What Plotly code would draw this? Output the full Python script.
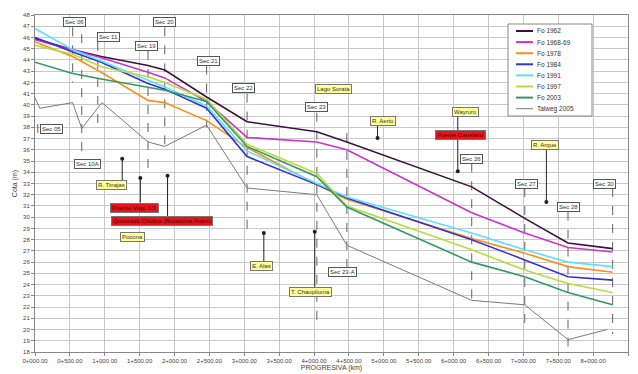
import plotly.graph_objects as go

# ---------------- data ----------------
stations = [0.0, 0.54, 0.95, 1.62, 1.86, 2.46, 3.04, 4.04, 4.47, 6.26, 7.02, 7.64, 8.28]

fo_1962 = [45.9, 44.9, 44.3, 43.5, 43.1, 40.7, 38.5, 37.6, 36.7, 32.7, 29.9, 27.7, 27.2]
fo_1968 = [45.8, 44.9, 44.2, 42.9, 42.4, 40.3, 37.1, 36.7, 36.0, 30.4, 28.6, 27.3, 26.9]
fo_1978 = [45.6, 44.3, 42.9, 40.4, 40.2, 38.6, 36.2, 32.9, 31.6, 28.1, 26.8, 25.6, 25.1]
fo_1984 = [46.0, 44.7, 43.8, 41.9, 41.4, 39.7, 35.4, 32.9, 31.7, 28.0, 26.2, 24.7, 24.4]
fo_1991 = [46.8, 44.9, 43.9, 42.2, 41.6, 39.9, 35.9, 33.0, 31.8, 28.6, 27.1, 26.0, 25.6]
fo_1997 = [45.3, 44.5, 43.4, 42.5, 42.0, 40.5, 36.5, 33.9, 31.0, 27.1, 25.3, 24.1, 23.3]
fo_2003 = [43.8, 42.8, 42.3, 41.6, 41.3, 40.3, 36.3, 33.6, 30.9, 26.0, 24.7, 23.3, 22.2]

talweg_x = [0.0, 0.07, 0.54, 0.67, 0.96, 1.62, 1.86, 2.46, 3.04, 4.04, 4.47, 6.26, 7.02, 7.64, 8.2]
talweg_y = [40.6, 39.7, 40.2, 37.9, 40.2, 36.7, 36.3, 38.2, 32.6, 32.0, 27.5, 22.6, 22.2, 19.1, 20.0]

series_names = ["Fo 1962", "Fo 1968-69", "Fo 1978", "Fo 1984", "Fo 1991", "Fo 1997", "Fo 2003"]
series_vals = [fo_1962, fo_1968, fo_1978, fo_1984, fo_1991, fo_1997, fo_2003]
series_colors = ["#3c1040", "#cc33cc", "#ff8c1a", "#3333cc", "#5ce0ff", "#b8dc3c", "#339966"]
talweg_name = "Talweg 2005"
talweg_color = "#7a7a7a"

x_tickvals = [i * 0.5 for i in range(18)]
x_ticktext = ["0+000.00", "0+500.00", "1+000.00", "1+500.00", "2+000.00", "2+500.00",
              "3+000.00", "3+500.00", "4+000.00", "4+500.00", "5+000.00", "5+500.00",
              "6+000.00", "6+500.00", "7+000.00", "7+500.00", "8+000.00", "8+500.00"]
y_tickvals = list(range(18, 49))

# sections: name, label x, label y, line x, line top, line bottom
sec_names = ["Sec 05", "Sec 06", "Sec 10A", "Sec 11", "Sec 19", "Sec 20", "Sec 21", "Sec 22",
             "Sec 23", "Sec 23-A", "Sec 26", "Sec 27", "Sec 28", "Sec 30"]
sec_lx = [0.24, 0.56, 0.75, 1.05, 1.6, 1.86, 2.49, 2.99, 4.04, 4.41, 6.25, 7.05, 7.64, 8.17]
sec_ly = [37.85, 47.4, 34.7, 46.0, 45.2, 47.4, 43.9, 41.5, 39.8, 25.1, 35.2, 33.0, 30.9, 33.0]
sec_x = [0.04, 0.54, 0.67, 0.9, 1.62, 1.86, 2.46, 3.04, 4.04, 4.47, 6.26, 7.02, 7.64, 8.28]
sec_top = [38.3, 46.9, 46.3, 45.6, 44.8, 46.9, 43.5, 41.0, 39.3, 37.5, 34.8, 32.6, 30.5, 32.6]
sec_bot = [37.4, 42.0, 35.1, 38.0, 34.0, 36.0, 38.0, 28.8, 20.8, 25.5, 22.0, 19.8, 18.0, 19.6]

# place labels
lbl_text = ["R. Tinajas", "Pocona", "Puente Viejo 1/1", "Quebrada Chullpa (Bocatoma Arami)",
            "E. Alas", "Lago Sorata", "R. Aerio", "T. Chaupiloma", "Wayruro",
            "Puente Carretero", "R. Arque"]
lbl_x = [1.09, 1.40, 1.43, 1.82, 3.25, 4.28, 4.99, 3.95, 6.17, 6.10, 7.31]
lbl_y = [32.9, 28.2, 30.85, 29.7, 25.65, 41.4, 38.56, 23.3, 39.4, 37.3, 36.4]
lbl_red = [False, False, True, True, False, False, False, False, False, True, False]

# pointers: x, dot y, end y
ptr_x = [1.25, 1.51, 1.90, 3.28, 4.91, 4.01, 6.06, 7.33]
ptr_dot = [35.2, 33.5, 33.7, 28.6, 37.05, 28.7, 34.1, 31.35]
ptr_end = [33.2, 31.3, 30.1, 26.1, 38.3, 23.8, 39.0, 36.0]

# ---------------- figure ----------------
W, H = 638, 374
ML, MR, MT, MB = 35, 10, 15, 22
PW, PH = W - ML - MR, H - MT - MB


def px_x(p):
    return (p - ML) / PW


def px_y(p):
    return (H - MB - p) / PH


fig = go.Figure()

for i in range(len(sec_names)):
    fig.add_trace(go.Scatter(x=[sec_x[i], sec_x[i]], y=[sec_top[i], sec_bot[i]], mode="lines",
                             line=dict(color="#606060", width=1, dash="dash"),
                             showlegend=False, hoverinfo="skip"))

for i in range(len(ptr_x)):
    fig.add_trace(go.Scatter(x=[ptr_x[i], ptr_x[i]], y=[ptr_dot[i], ptr_end[i]], mode="lines",
                             line=dict(color="#202020", width=1),
                             showlegend=False, hoverinfo="skip"))
fig.add_trace(go.Scatter(x=ptr_x, y=ptr_dot, mode="markers",
                         marker=dict(color="#202020", size=4), showlegend=False, hoverinfo="skip"))

for name, vals, col in zip(series_names, series_vals, series_colors):
    fig.add_trace(go.Scatter(x=stations, y=vals, mode="lines", name=name,
                             line=dict(color=col, width=1.6), showlegend=False))

fig.add_trace(go.Scatter(x=talweg_x, y=talweg_y, mode="lines", name=talweg_name,
                         line=dict(color=talweg_color, width=1), showlegend=False))

annotations = []
for i in range(len(sec_names)):
    annotations.append(dict(x=sec_lx[i], y=sec_ly[i], text=sec_names[i], showarrow=False,
                            font=dict(size=6, color="#333333", family="Liberation Sans"),
                            bgcolor="white", bordercolor="#555555", borderwidth=1, borderpad=1))
for i in range(len(lbl_text)):
    red = lbl_red[i]
    annotations.append(dict(x=lbl_x[i], y=lbl_y[i], text=lbl_text[i], showarrow=False,
                            font=dict(size=6, color="#600000" if red else "#333333",
                                      family="Liberation Sans"),
                            bgcolor="#e8141c" if red else "#ffff99",
                            bordercolor="#777777", borderwidth=1, borderpad=1))

# compact legend box (Excel-like)
shapes = [dict(type="rect", xref="paper", yref="paper",
               x0=px_x(508), x1=px_x(592), y0=px_y(116), y1=px_y(24),
               line=dict(color="#888888", width=1), fillcolor="white", layer="above")]
leg_names = series_names + [talweg_name]
leg_colors = series_colors + [talweg_color]
leg_widths = [2] * len(series_names) + [1]
for i, (n, c, w) in enumerate(zip(leg_names, leg_colors, leg_widths)):
    yy = px_y(31 + 11.1 * i)
    shapes.append(dict(type="line", xref="paper", yref="paper",
                       x0=px_x(516), x1=px_x(533), y0=yy, y1=yy,
                       line=dict(color=c, width=w), layer="above"))
    annotations.append(dict(x=px_x(535), y=yy, xref="paper", yref="paper", text=n,
                            showarrow=False, xanchor="left", yanchor="middle",
                            font=dict(size=6.5, color="#333333", family="Liberation Sans")))

fig.update_layout(
    width=W, height=H,
    margin=dict(l=ML, r=MR, t=MT, b=MB, autoexpand=False),
    paper_bgcolor="white", plot_bgcolor="white",
    font=dict(family="Liberation Sans", size=6, color="#444444"),
    showlegend=False,
    annotations=annotations,
    shapes=shapes,
)
fig.update_xaxes(range=[0, 8.5], tickvals=x_tickvals, ticktext=x_ticktext,
                 showgrid=True, gridcolor="#c8c8c8", gridwidth=1,
                 showline=True, linecolor="#888888", mirror=True,
                 ticks="outside", ticklen=3, tickcolor="#888888",
                 tickfont=dict(size=6), tickangle=0, automargin=False,
                 title=dict(text="PROGRESIVA (km)", font=dict(size=7, color="#444444"), standoff=1),
                 zeroline=False)
fig.update_yaxes(range=[18, 48], tickvals=y_tickvals,
                 showgrid=True, gridcolor="#c8c8c8", gridwidth=1,
                 showline=True, linecolor="#888888", mirror=True,
                 ticks="outside", ticklen=3, tickcolor="#888888",
                 tickfont=dict(size=6), automargin=False,
                 title=dict(text="Cota (m)", font=dict(size=7, color="#444444"), standoff=4),
                 zeroline=False)

fig.write_html("out.html", config={"displayModeBar": False},
               post_script="document.body.style.margin='0px';document.body.style.overflow='hidden';")
